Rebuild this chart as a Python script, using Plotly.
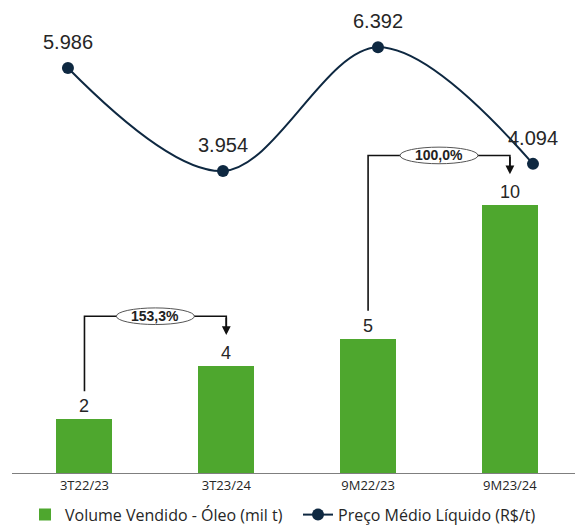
import plotly.graph_objects as go

# Periods and series
periods = ["3T22/23", "3T23/24", "9M22/23", "9M23/24"]
volume = [2, 4, 5, 10]                       # Volume Vendido - Óleo (mil t)
price = [5.986, 3.954, 6.392, 4.094]         # Preço Médio Líquido (R$/t)
price_labels = ["5.986", "3.954", "6.392", "4.094"]

# Growth comparisons: (from index, to index, label)
growth_pairs = [(0, 1, "153,3%"), (2, 3, "100,0%")]

GREEN = "#4EA72E"
NAVY = "#0E2841"
NUM_FONT = "Liberation Sans, Arial, sans-serif"
TXT_FONT = "Open Sans, sans-serif"

idx = list(range(len(periods)))

fig = go.Figure()

fig.add_trace(go.Bar(
    x=idx, y=volume,
    name="Volume Vendido - Óleo (mil t)",
    marker=dict(color=GREEN, line=dict(width=0)),
    width=0.395,
    text=[str(v) for v in volume],
    textposition="outside",
    textfont=dict(family=NUM_FONT, size=18, color="#262626"),
    cliponaxis=False,
    xaxis="x", yaxis="y",
))

fig.add_trace(go.Scatter(
    x=idx, y=price,
    name="Preço Médio Líquido (R$/t)",
    mode="lines+markers",
    line=dict(color=NAVY, width=2, shape="spline", smoothing=1.0),
    marker=dict(color=NAVY, size=12),
    cliponaxis=False,
    xaxis="x2", yaxis="y2",
))

annotations = []
for i, (p, lab) in enumerate(zip(price, price_labels)):
    annotations.append(dict(
        x=i, y=p, xref="x2", yref="y2", text=lab, showarrow=False,
        yshift=26, font=dict(family=NUM_FONT, size=20, color="#262626"),
    ))

shapes = []
for a, b, lab in growth_pairs:
    y_start = volume[a] + 1.05
    y_top = max(volume[a], volume[b]) + 1.85
    y_end = volume[b] + 1.15
    # bracket from the first bar up, across and down to the second bar
    shapes.append(dict(
        type="path", xref="x", yref="y",
        path=f"M {a},{y_start} L {a},{y_top} L {b},{y_top} L {b},{y_end + 0.3}",
        line=dict(color="#111111", width=1.6),
    ))
    annotations.append(dict(
        x=b, y=y_end, xref="x", yref="y",
        ax=b, ay=y_top, axref="x", ayref="y",
        text="", showarrow=True, arrowhead=2, arrowsize=1.1,
        arrowwidth=1.6, arrowcolor="#111111",
    ))
    mid = (a + b) / 2
    shapes.append(dict(
        type="circle", xref="x", yref="y",
        x0=mid - 0.275, x1=mid + 0.275,
        y0=y_top - 0.31, y1=y_top + 0.31,
        fillcolor="white", line=dict(color="#555555", width=1),
    ))
    annotations.append(dict(
        x=mid, y=y_top, xref="x", yref="y", text=f"<b>{lab}</b>",
        showarrow=False, font=dict(family=NUM_FONT, size=14, color="#222222"),
    ))

fig.update_layout(
    width=587, height=525,
    margin=dict(l=12, r=12, t=0, b=52, autoexpand=False),
    paper_bgcolor="white", plot_bgcolor="white",
    showlegend=True,
    legend=dict(
        orientation="h", xref="container", yref="container",
        x=0.0426, y=0.052, xanchor="left", yanchor="top",
        font=dict(family=TXT_FONT, size=16, color="#262626"),
        entrywidth=228, entrywidthmode="pixels",
        traceorder="normal",
    ),
    xaxis=dict(
        range=[-0.511, 3.459], tickmode="array", tickvals=idx, ticktext=periods,
        showgrid=False, zeroline=False, showline=True, linecolor="#7F7F7F",
        linewidth=1, ticks="", tickfont=dict(family=TXT_FONT, size=13, color="#262626"),
        fixedrange=True,
    ),
    yaxis=dict(range=[0, 17.65], visible=False, fixedrange=True),
    xaxis2=dict(range=[-0.361, 3.271], overlaying="x", visible=False),
    yaxis2=dict(range=[-2.003, 7.326], overlaying="y", visible=False),
    shapes=shapes,
    annotations=annotations,
    bargap=0,
)

fig.write_html("out.html")
